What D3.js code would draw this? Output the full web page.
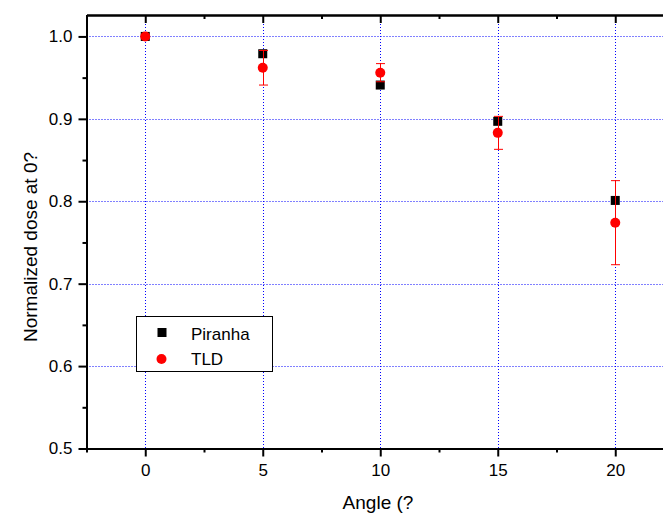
<!DOCTYPE html>
<html>
<head>
<meta charset="utf-8">
<script src="https://cdn.jsdelivr.net/npm/d3@7"></script>
<style>
  body { margin: 0; background: #fff; }
  svg { display: block; font-family: Arial, "Liberation Sans", sans-serif; }
</style>
</head>
<body>
<div id="chart"></div>
<script>
// data
const angles = [0, 5, 10, 15, 20];
const piranha = [1.0, 0.979, 0.941, 0.897, 0.801];
const tld = [1.0, 0.962, 0.956, 0.883, 0.774];
const tldErr = [0, 0.021, 0.011, 0.020, 0.051];
const xMajor = [0, 5, 10, 15, 20];
const xMinor = [-2.5, 2.5, 7.5, 12.5, 17.5, 22.5];
const yMajor = [0.5, 0.6, 0.7, 0.8, 0.9, 1.0];
const yMinor = [0.55, 0.65, 0.75, 0.85, 0.95];

const width = 663, height = 516;
const pLeft = 86.5, pRight = 674, pTop = 15, pBottom = 448.5;

const svg = d3.select('#chart').append('svg')
    .attr('width', width)
    .attr('height', height);

const x = d3.scaleLinear().domain([-2.5, 22.5]).range([pLeft, pRight]);
const y = d3.scaleLinear().domain([0.5, 1.026]).range([pBottom, pTop]);

// grid
const grid = svg.append('g')
    .attr('stroke', '#0000ff')
    .attr('stroke-width', 1)
    .attr('stroke-dasharray', '1,2');
grid.selectAll('.gx').data(xMajor).enter().append('line')
    .attr('x1', d => Math.round(x(d)) + 0.5).attr('x2', d => Math.round(x(d)) + 0.5)
    .attr('y1', pTop).attr('y2', pBottom);
grid.selectAll('.gy').data(yMajor.slice(1)).enter().append('line')
    .attr('y1', d => Math.round(y(d)) + 0.5).attr('y2', d => Math.round(y(d)) + 0.5)
    .attr('x1', pLeft).attr('x2', pRight);

// axes
function styleAxis(g) {
    g.select('.domain').attr('stroke', '#000').attr('stroke-width', 2);
    g.selectAll('.tick line').attr('stroke', '#000').attr('stroke-width', 2);
    g.selectAll('.tick text').attr('fill', '#000').style('font-size', '17px');
}

svg.append('g')
    .attr('transform', `translate(0,${pBottom})`)
    .call(d3.axisBottom(x).tickValues(xMajor).tickSize(8).tickSizeOuter(0).tickPadding(7))
    .call(styleAxis);
svg.append('g')
    .attr('transform', `translate(0,${pBottom})`)
    .call(d3.axisBottom(x).tickValues(xMinor).tickSize(4).tickSizeOuter(0).tickFormat(''))
    .call(styleAxis);

svg.append('g')
    .attr('transform', `translate(0,${pTop})`)
    .call(d3.axisTop(x).tickValues(xMajor).tickSize(-8).tickSizeOuter(0).tickFormat(''))
    .call(styleAxis);
svg.append('g')
    .attr('transform', `translate(0,${pTop})`)
    .call(d3.axisTop(x).tickValues(xMinor).tickSize(-4).tickSizeOuter(0).tickFormat(''))
    .call(styleAxis);

svg.append('g')
    .attr('transform', `translate(${pLeft},0)`)
    .call(d3.axisLeft(y).tickValues(yMajor).tickSize(8).tickSizeOuter(0).tickPadding(6).tickFormat(d3.format('.1f')))
    .call(styleAxis);
svg.append('g')
    .attr('transform', `translate(${pLeft},0)`)
    .call(d3.axisLeft(y).tickValues(yMinor).tickSize(4).tickSizeOuter(0).tickFormat(''))
    .call(styleAxis);

// axis titles
svg.append('text')
    .attr('x', 378)
    .attr('y', 509)
    .attr('text-anchor', 'middle')
    .style('font-size', '19px')
    .text('Angle (?');
svg.append('text')
    .attr('transform', `translate(37,247) rotate(-90)`)
    .attr('text-anchor', 'middle')
    .style('font-size', '19px')
    .text('Normalized dose at 0?');

// Piranha squares
svg.selectAll('.sq').data(angles).enter().append('rect')
    .attr('x', d => x(d) - 4.5)
    .attr('y', (d, i) => y(piranha[i]) - 4.5)
    .attr('width', 9).attr('height', 9)
    .attr('fill', '#000');

// TLD error bars
const eb = svg.append('g').attr('stroke', '#ff0000').attr('stroke-width', 1);
angles.forEach((a, i) => {
    if (!tldErr[i]) return;
    const cx = Math.round(x(a)) + 0.5;
    const y1 = y(tld[i] + tldErr[i]), y2 = y(tld[i] - tldErr[i]);
    eb.append('line').attr('x1', cx).attr('x2', cx).attr('y1', y1).attr('y2', y2);
    eb.append('line').attr('x1', cx - 4.5).attr('x2', cx + 4.5).attr('y1', y1).attr('y2', y1);
    eb.append('line').attr('x1', cx - 4.5).attr('x2', cx + 4.5).attr('y1', y2).attr('y2', y2);
});

// TLD circles
svg.selectAll('.ci').data(angles).enter().append('circle')
    .attr('cx', d => x(d))
    .attr('cy', (d, i) => y(tld[i]))
    .attr('r', 5)
    .attr('fill', '#ff0000');

// legend
const lg = svg.append('g');
lg.append('rect')
    .attr('x', 136.5).attr('y', 316.5)
    .attr('width', 136).attr('height', 55)
    .attr('fill', '#fff').attr('stroke', '#000').attr('stroke-width', 1);
lg.append('rect').attr('x', 157.5).attr('y', 328).attr('width', 9).attr('height', 9).attr('fill', '#000');
lg.append('circle').attr('cx', 161.5).attr('cy', 359).attr('r', 5).attr('fill', '#ff0000');
lg.append('text').attr('x', 191).attr('y', 340).style('font-size', '17px').text('Piranha');
lg.append('text').attr('x', 191).attr('y', 365).style('font-size', '17px').text('TLD');
</script>
</body>
</html>
